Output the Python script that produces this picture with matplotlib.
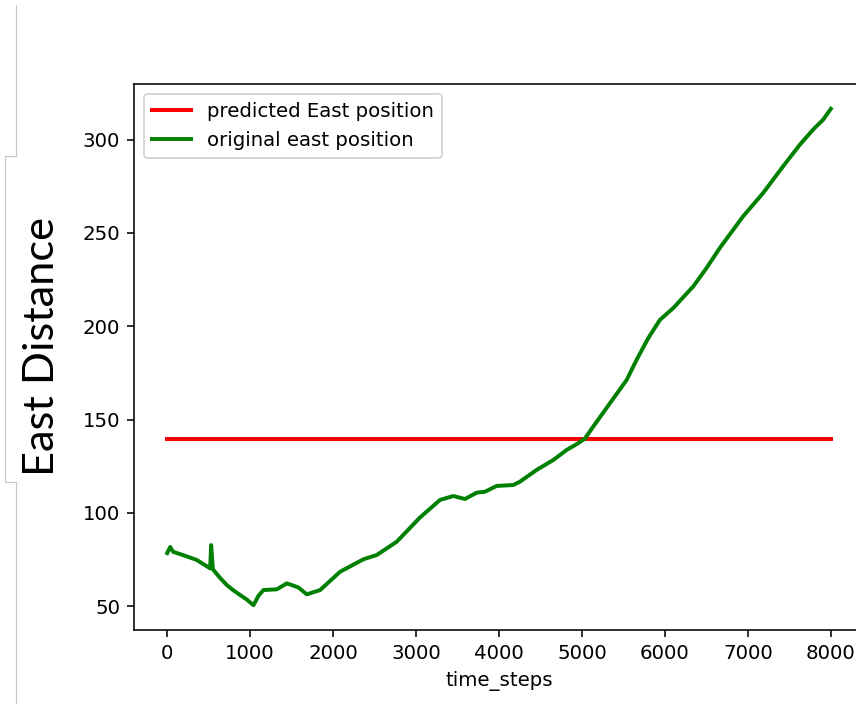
import matplotlib
matplotlib.use('Agg')
import matplotlib.pyplot as plt
from matplotlib.lines import Line2D

# original east position
steps = [0, 36, 72, 200, 358, 518, 530, 551, 640, 719, 800, 880, 960, 1040,
         1100, 1160, 1322, 1442, 1582, 1683, 1843, 2084, 2365, 2527, 2767,
         3048, 3289, 3449, 3590, 3731, 3831, 3972, 4172, 4253, 4454, 4654,
         4816, 4955, 5036, 5136, 5337, 5539, 5659, 5799, 5940, 6100, 6341,
         6502, 6663, 6943, 7184, 7425, 7627, 7787, 7908, 8000]
east = [78.4, 81.7, 79.1, 77.2, 74.7, 70.2, 82.7, 69.7, 65.0, 61.3, 58.4,
        55.9, 53.5, 50.5, 55.5, 58.6, 59.0, 62.2, 60.0, 56.3, 58.6, 68.4,
        75.1, 77.4, 84.5, 97.5, 106.9, 109.0, 107.4, 110.8, 111.3, 114.4,
        114.9, 116.7, 123.0, 128.3, 133.7, 137.3, 139.8, 146.2, 158.7, 171.2,
        182.0, 193.6, 203.4, 209.7, 221.3, 231.2, 242.0, 258.9, 271.4, 285.7,
        297.3, 305.4, 310.7, 316.5]

# predicted east position (flat)
pred_steps = [0, 8000]
pred_east = [139.5, 139.5]

dpi = 142
fig = plt.figure(figsize=(856 / dpi, 704 / dpi), dpi=dpi)
ax = fig.add_axes([134 / 856, 74 / 704, 730 / 856, 546 / 704])

ax.plot(pred_steps, pred_east, color='red', lw=2, label='predicted East position')
ax.plot(steps, east, color='green', lw=2, label='original east position')
ax.spines['right'].set_visible(False)
ax.set_xlabel('time_steps')
ax.legend(loc='upper left')

# big label pasted on the left, with its thin grey frame
fig.text(42 / 856, 1 - 346 / 704, 'East Distance', rotation=90,
         ha='center', va='center', fontsize=22, family='Lato')
grey = '#c8c8c8'
W, H = 856, 704
for xs, ys in [([16, 16], [5, 156]), ([5, 16], [156, 156]),
               ([5, 5], [156, 482]), ([5, 16], [482, 482]),
               ([16, 16], [482, 704])]:
    fig.add_artist(Line2D([x / W for x in xs], [1 - y / H for y in ys],
                          color=grey, lw=0.6))

fig.savefig('out.png', dpi=dpi)
